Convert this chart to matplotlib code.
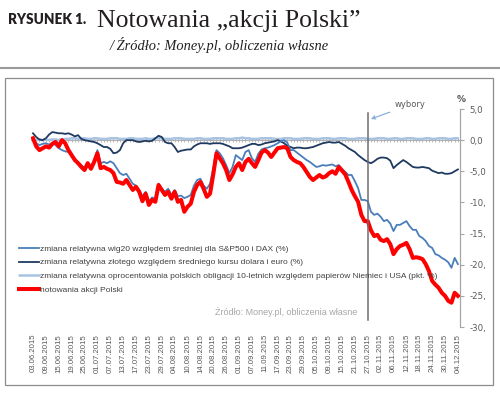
import matplotlib
matplotlib.use('Agg')
import matplotlib.pyplot as plt
import numpy as np
import pandas as pd
from matplotlib.patches import Rectangle
from matplotlib.lines import Line2D

# ---- data ----
dates = pd.bdate_range('2015-06-03', '2015-12-04')
tick_labels = [d.strftime('%d.%m.%Y') for d in dates[::4]]

wig20 = [0.3, -0.5, -0.8, -0.6, -0.5, -0.7, -0.5, -0.8, -1.3, -1.6,
         -1.8, -1.9, -2.4, -3.2, -3.6, -4.0, -4.5, -3.8, -4.3, -3.2,
         -1.6, -3.7, -3.5, -3.7, -3.4, -3.7, -4.5, -5.3, -5.6, -5.4,
         -6.2, -7.0, -7.3, -8.0, -9.0, -8.3, -9.8, -9.2, -9.4, -7.0,
         -7.8, -8.3, -7.8, -8.8, -8.0, -9.0, -8.9, -9.3, -9.1, -8.8,
         -7.3, -6.4, -6.2, -7.3, -7.8, -7.0, -4.5, -1.6, -2.1, -2.9,
         -4.0, -5.3, -4.3, -2.4, -2.8, -3.2, -1.9, -1.6, -2.9, -3.5,
         -2.2, -1.5, -1.3, -1.2, -1.0, -0.8, -0.5, -0.2, 0.0, -0.4,
         -1.6, -1.6, -2.0, -2.4, -2.8, -3.2, -3.5, -3.9, -4.3, -4.2,
         -4.0, -4.1, -4.0, -3.9, -4.2, -4.0, -4.6, -5.1, -5.6, -5.6,
         -6.6, -7.7, -9.6, -9.6, -9.8, -11.5, -12.0, -11.8, -12.3, -13.0,
         -12.8, -13.4, -14.6, -13.6, -13.6, -13.3, -13.0, -13.8, -14.4, -14.4,
         -15.4, -15.7, -16.2, -17.0, -17.3, -18.3, -18.5, -18.9, -19.2, -19.6,
         -20.5, -18.9, -19.9]

zloty = [1.1, 0.5, 0.1, 0.0, 0.3, 0.9, 1.3, 1.2, 1.1, 1.1,
         1.0, 1.1, 0.9, 0.6, 0.8, 0.2, 0.0, -0.1, -0.2, -0.3,
         -0.5, -0.8, -1.1, -1.1, -1.4, -2.1, -2.0, -1.6, -0.5, 0.0,
         0.0, 0.0, -0.2, -0.3, -0.2, -0.1, -0.2, -0.1, 0.3, 0.7,
         0.5, -0.3, -0.5, -0.5, -1.1, -1.9, -1.7, -1.6, -1.5, -1.5,
         -1.0, -0.7, -0.5, -0.5, -0.5, -0.6, -0.5, -0.5, -0.5, -0.6,
         -0.8, -1.0, -1.3, -1.3, -1.3, -1.2, -1.0, -0.8, -0.6, -0.6,
         -0.8, -0.7, -0.5, -0.4, -0.3, -0.2, 0.0, -0.2, -0.5, -0.9,
         -1.1, -1.3, -1.2, -1.2, -1.3, -1.3, -1.2, -1.1, -0.9, -0.7,
         -0.5, -0.4, -0.3, -0.4, -0.4, -0.3, -0.6, -0.9, -1.3, -1.6,
         -1.9, -2.4, -2.8, -3.2, -3.5, -3.7, -3.4, -3.0, -2.8, -2.8,
         -2.9, -3.3, -4.5, -4.0, -3.6, -3.2, -3.5, -3.9, -4.3, -4.4,
         -4.4, -4.3, -4.4, -4.5, -4.9, -5.1, -5.3, -5.2, -5.4, -5.4,
         -5.3, -5.0, -4.7]

bonds = [0.0, 0.0, 0.1, 0.0, 0.1, 0.0, 0.1, 0.1, 0.0, 0.1,
         0.2, 0.2, 0.3, 0.3, 0.2, 0.3, 0.3, 0.2, 0.2, 0.3,
         0.3, 0.2, 0.2, 0.2, 0.3, 0.3, 0.3, 0.2, 0.2, 0.2,
         0.3, 0.3, 0.2, 0.2, 0.2, 0.3, 0.2, 0.2, 0.3, 0.3,
         0.3, 0.2, 0.2, 0.2, 0.3, 0.3, 0.3, 0.2, 0.2, 0.2,
         0.2, 0.3, 0.3, 0.2, 0.2, 0.2, 0.3, 0.3, 0.3, 0.3,
         0.2, 0.2, 0.2, 0.3, 0.3, 0.4, 0.3, 0.3, 0.2, 0.2,
         0.2, 0.3, 0.3, 0.3, 0.3, 0.2, 0.2, 0.2, 0.3, 0.3,
         0.3, 0.2, 0.2, 0.2, 0.3, 0.3, 0.3, 0.2, 0.2, 0.2,
         0.3, 0.3, 0.3, 0.2, 0.2, 0.3, 0.3, 0.3, 0.2, 0.2,
         0.2, 0.3, 0.3, 0.3, 0.2, 0.2, 0.2, 0.3, 0.3, 0.3,
         0.2, 0.2, 0.3, 0.3, 0.2, 0.2, 0.3, 0.3, 0.3, 0.2,
         0.2, 0.2, 0.3, 0.3, 0.2, 0.2, 0.3, 0.3, 0.3, 0.2,
         0.2, 0.3, 0.3]

stocks = [0.3, -1.0, -1.6, -1.3, -1.0, -1.2, -0.6, -0.3, -1.0, 0.0,
          -0.5, -1.6, -2.4, -3.2, -3.7, -4.3, -4.8, -3.7, -4.6, -3.5,
          -2.1, -4.5, -4.3, -4.6, -4.8, -5.3, -6.7, -6.8, -7.0, -6.4,
          -7.2, -8.0, -7.5, -8.3, -9.8, -8.6, -10.4, -9.6, -9.9, -7.2,
          -8.0, -8.8, -8.3, -9.4, -8.3, -9.9, -9.6, -11.5, -10.7, -10.2,
          -8.3, -7.2, -6.7, -7.8, -9.1, -8.6, -5.5, -2.1, -2.9, -3.7,
          -4.8, -6.4, -5.5, -4.3, -3.7, -4.8, -3.5, -3.0, -3.7, -4.3,
          -3.2, -2.0, -1.6, -2.0, -2.7, -2.0, -1.3, -1.2, -1.1, -1.3,
          -2.7, -3.2, -3.5, -3.7, -4.3, -5.1, -5.9, -6.4, -6.0, -5.6,
          -6.0, -5.8, -5.3, -5.0, -5.4, -4.3, -4.9, -5.5, -6.7, -8.0,
          -9.0, -9.9, -12.0, -13.0, -13.0, -14.5, -15.4, -15.2, -16.0, -16.2,
          -15.9, -16.7, -18.3, -17.5, -17.0, -16.8, -16.5, -17.5, -18.9, -18.8,
          -18.9, -19.1, -19.9, -21.0, -22.6, -23.2, -23.7, -24.5, -25.0, -25.8,
          -26.1, -24.5, -25.0]

series_labels = [
    'zmiana relatywna wig20 względem średniej dla S&P500 i DAX (%)',
    'zmiana relatywna złotego względem średniego kursu dolara i euro (%)',
    'zmiana relatywna oprocentowania polskich obligacji 10-letnich względem papierów Niemiec i USA (pkt. %)',
    'notowania akcji Polski',
]
election_date = '2015-10-27'
y_ticks = [-30, -25, -20, -15, -10, -5, 0, 5]
y_tick_labels = ['-30,', '-25,', '-20,', '-15,', '-10,', '-5,0', '0,0', '5,0']

# ---- figure ----
W, H = 500, 393
fig = plt.figure(figsize=(W / 100, H / 100), dpi=100)
fig.patch.set_facecolor('white')

def fx(px):
    return px / W

def fy(py):
    return 1 - py / H

# header
fig.text(fx(8), fy(24), 'RYSUNEK 1.', fontsize=9.8, fontweight='heavy',
         family='Lato', color='#231f20', va='baseline', ha='left')
fig.text(fx(97), fy(27), 'Notowania \u201eakcji Polski\u201d', fontsize=18.5,
         family='Liberation Serif', color='#231f20', va='baseline', ha='left')
fig.text(fx(110), fy(50), '/ Źródło: Money.pl, obliczenia własne', fontsize=10.4,
         family='Liberation Serif', style='italic', color='#231f20',
         va='baseline', ha='left')
fig.add_artist(Line2D([0, 1], [fy(68), fy(68)], transform=fig.transFigure,
                      color='#9a9a9a', lw=1.5))
fig.add_artist(Rectangle((fx(5), fy(385)), fx(493) - fx(5), fy(78) - fy(385),
                         transform=fig.transFigure, fill=False,
                         ec='#8c8c8c', lw=0.9))

# axes
left_px, right_px, top_px, bot_px = 31.4, 459.5, 109, 327
ax = fig.add_axes([fx(left_px), fy(bot_px), fx(right_px) - fx(left_px),
                   fy(top_px) - fy(bot_px)])
ax.set_facecolor('none')
x = np.arange(len(dates))

# zero axis with dense tick marks
ax.axhline(0, color='#b0b0b0', lw=0.8, zorder=1)
ax.plot(x, np.zeros(len(x)), ls='none', marker='|', ms=2.5, mew=0.6,
        color='#b0b0b0', zorder=1)

l_bonds, = ax.plot(x, bonds, color='#a8c2e2', lw=1.8, zorder=2,
                   solid_capstyle='round')
l_zl, = ax.plot(x, zloty, color='#1f3a60', lw=1.3, zorder=3)
l_wig, = ax.plot(x, wig20, color='#4a7ebb', lw=1.3, zorder=4)
l_st, = ax.plot(x, stocks, color='#ff0000', lw=2.9, zorder=5,
                solid_joinstyle='round')

xe = dates.get_loc(pd.Timestamp(election_date))
ax.axvline(xe, ymin=(bot_px - 320) / (bot_px - top_px),
           ymax=(bot_px - 113) / (bot_px - top_px),
           color='#6e6e6e', lw=1.1, zorder=6)
ax.annotate('wybory', xy=(xe + 1.0, 3.4), xytext=(xe + 13.3, 5.7),
            textcoords='data', annotation_clip=False, fontsize=6,
            color='#595959', ha='center', va='center',
            arrowprops=dict(arrowstyle='->', color='#7fa6d6', lw=0.8,
                            shrinkA=2, shrinkB=0))

ax.set_xlim(-0.5, len(dates) - 0.5)
ax.set_ylim(-30, 5)

for s in ['top', 'left', 'bottom']:
    ax.spines[s].set_visible(False)
ax.spines['right'].set_color('#a6a6a6')
ax.spines['right'].set_linewidth(0.9)

ax.yaxis.tick_right()
ax.set_yticks(y_ticks)
ax.set_yticklabels(y_tick_labels)
ax.tick_params(axis='y', direction='out', length=3, width=0.8,
               color='#a6a6a6', labelsize=6.2, labelcolor='#595959', pad=4)

ax.set_xticks(x[::4])
ax.set_xticklabels(tick_labels, rotation=90, fontsize=5.6,
                   family='Liberation Sans', color='#595959')
ax.tick_params(axis='x', length=0, pad=5)

fig.text(fx(461.5), fy(100), '%', fontsize=6.5, color='#595959',
         ha='center', va='center', fontweight='bold')

# legend
leg = fig.legend([l_wig, l_zl, l_bonds, l_st], series_labels,
                 loc='upper left', bbox_to_anchor=(fx(19), fy(245)),
                 bbox_transform=fig.transFigure, frameon=False,
                 prop={'family': 'Liberation Sans', 'size': 6.05},
                 handlelength=2.4, handletextpad=0.1, labelspacing=0.68,
                 borderpad=0, borderaxespad=0)
for t in leg.get_texts():
    t.set_color('#404040')

fig.text(fx(215), fy(312), 'Źródło: Money.pl, obliczenia własne',
         fontsize=6.5, family='Liberation Sans', color='#a6a6a6',
         ha='left', va='center')

fig.savefig('out.png', dpi=100)
